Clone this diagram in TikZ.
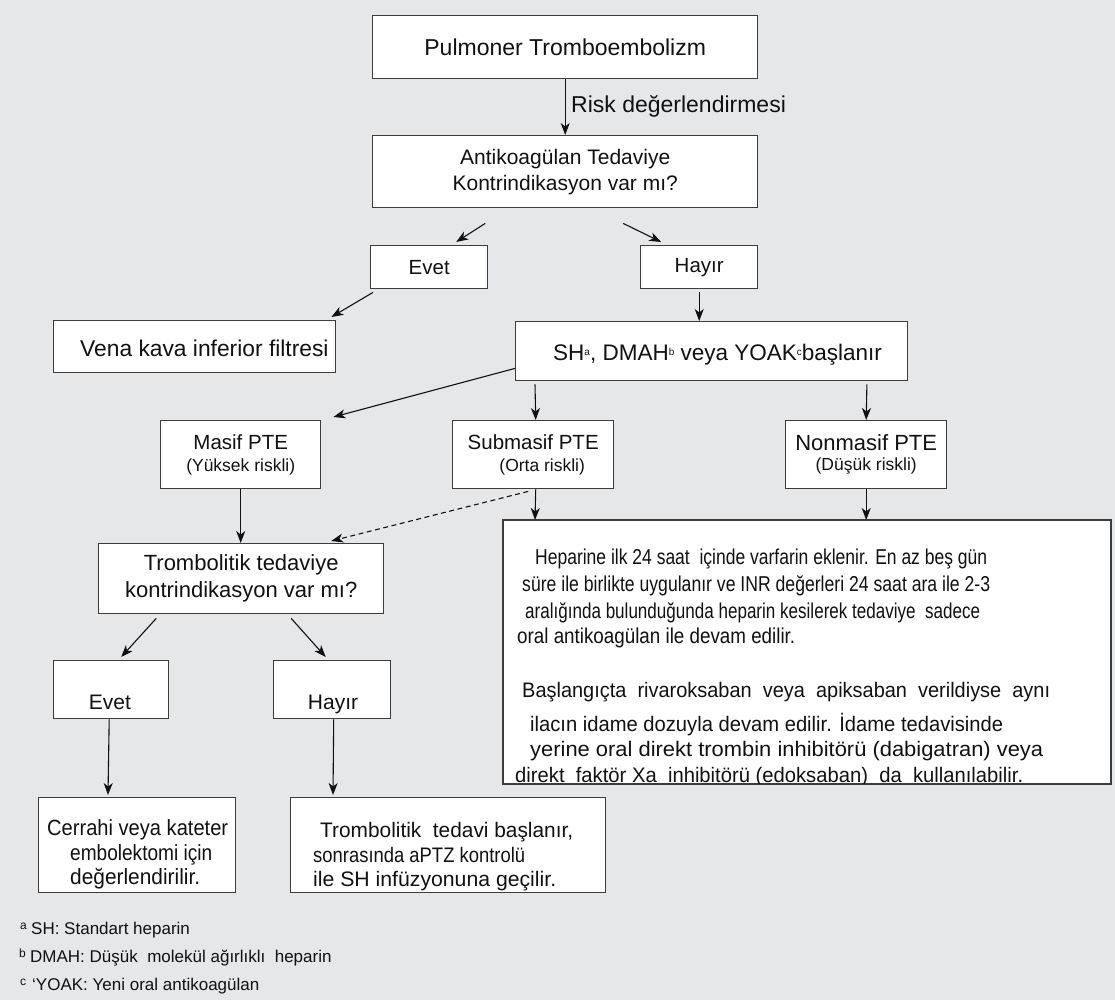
\documentclass[tikz,border=0pt]{standalone}
\usepackage{fontspec}
\setmainfont{Liberation Sans}
\usetikzlibrary{arrows.meta,calc}
\definecolor{pagebg}{HTML}{E6E7E9}
\definecolor{frame}{HTML}{3C3C3C}
\definecolor{ink}{HTML}{111111}
\newcommand\fsz[1]{\fontsize{#1}{#1}\selectfont}
\newcommand\wfit[2]{\resizebox{#1pt}{\height}{#2}}
\newcommand\tinysup[1]{\raisebox{5pt}{\fontsize{10}{10}\selectfont #1}}
\tikzset{
  box/.style={draw=frame, fill=white, line width=1.4pt, anchor=north west,
    inner sep=0pt, align=center, text=ink},
  lbl/.style={inner sep=0pt, text=ink, anchor=base west},
  clbl/.style={inner sep=0pt, text=ink, anchor=base},
  arr/.style={line width=1.1pt, draw=ink, -{Stealth[length=12pt,width=9pt,inset=3.5pt]}},
  darr/.style={arr, dash pattern=on 5pt off 3.5pt},
}
\begin{document}
\begin{tikzpicture}[x=1pt,y=-1pt]
\fill[pagebg] (0,0) rectangle (1115,1000);
\useasboundingbox (0,0) rectangle (1115,1000);

% ---- boxes ----
\node[box, minimum width=385pt, minimum height=63pt] (pte) at (372,15)
  {\fsz{23}Pulmoner Tromboembolizm};
\node[box, minimum width=385pt, minimum height=72pt, font=\fontsize{21}{26}\selectfont] (kontra) at (372,135)
  {Antikoagülan Tedaviye\\Kontrindikasyon var mı?};
\node[box, minimum width=117pt, minimum height=43pt] (evetA) at (370,245) {\fsz{20.5}Evet};
\node[box, minimum width=117pt, minimum height=43pt] (hayirA) at (640,245) {\fsz{20.5}Hayır};
\node[box, minimum width=282pt, minimum height=52pt] (vena) at (53,320) {};
\node[box, minimum width=392pt, minimum height=59pt] (sh) at (515,321) {};
\node[box, minimum width=160pt, minimum height=68pt] (masif) at (160,420)
  {\fsz{20.5}Masif PTE\\[8pt]\fsz{17.5}(Yüksek riskli)};
\node[box, minimum width=161pt, minimum height=68pt] (submasif) at (452,420)
  {\fsz{20.5}Submasif PTE\\[8pt]\fsz{17.5}\hspace*{18pt}(Orta riskli)};
\node[box, minimum width=161pt, minimum height=68pt] (nonmasif) at (785,420)
  {\fsz{22}Nonmasif PTE\\[6pt]\fsz{17.5}(Düşük riskli)};
\node[box, minimum width=607pt, minimum height=263pt] (bigbox) at (503,520) {};
\node[box, minimum width=285pt, minimum height=70pt, font=\fontsize{22}{27}\selectfont] (trombo) at (98,543)
  {Trombolitik tedaviye\\kontrindikasyon var mı?};
\node[box, minimum width=115pt, minimum height=58pt] (evetB) at (53,660) {};
\node[box, minimum width=117pt, minimum height=58pt] (hayirB) at (273,660) {};
\node[box, minimum width=197pt, minimum height=95pt] (cerrahi) at (38,797) {};
\node[box, minimum width=315pt, minimum height=95pt] (trtedavi) at (290,797) {};

% ---- texts placed inside boxes ----
\node[lbl] (riskT) at (571,113) {\fsz{23}Risk değerlendirmesi};
\node[lbl] (venaT) at (80,356) {\fsz{22.8}Vena kava inferior filtresi};
\node[lbl] (shT) at (553,360)
  {\fsz{22.5}SH\tinysup{a}, DMAH\tinysup{b} veya YOAK\tinysup{c}başlanır};
\node[clbl] (evetBT) at (110,709) {\fsz{21}Evet};
\node[clbl] (hayirBT) at (333,709) {\fsz{21}Hayır};

\node[lbl] (cer1) at (47,835) {\fsz{22}\wfit{181}{Cerrahi veya kateter}};
\node[lbl] (cer2) at (70,860) {\fsz{22}\wfit{142}{embolektomi için}};
\node[lbl] (cer3) at (70,884) {\fsz{22}\wfit{130}{değerlendirilir.}};

\node[lbl] (trt1) at (320,837) {\fsz{21}\wfit{253}{Trombolitik\ \ tedavi başlanır,}};
\node[lbl] (trt2) at (313,862) {\fsz{21}\wfit{212}{sonrasında aPTZ kontrolü}};
\node[lbl] (trt3) at (313,886) {\fsz{21}\wfit{243}{ile SH infüzyonuna geçilir.}};

\begin{scope}
  \clip (bigbox.north west) rectangle (bigbox.south east);
  \node[lbl] (b1) at (535,564) {\fsz{21.5}\wfit{452}{Heparine ilk 24 saat\ \ içinde varfarin eklenir. En az beş gün}};
  \node[lbl] (b2) at (522,591) {\fsz{21.5}\wfit{468}{süre ile birlikte uygulanır ve INR değerleri 24 saat ara ile 2-3}};
  \node[lbl] (b3) at (525,618) {\fsz{21.5}\wfit{455}{aralığında bulunduğunda heparin kesilerek tedaviye\ \ sadece}};
  \node[lbl] (b4) at (517,643) {\fsz{21.5}\wfit{278}{oral antikoagülan ile devam edilir.}};
  \node[lbl] (b5) at (522,697) {\fsz{21}\wfit{528}{Başlangıçta\ \ rivaroksaban\ \ veya\ \ apiksaban\ \ verildiyse\ \ aynı}};
  \node[lbl] (b6) at (530,731) {\fsz{21}\wfit{473}{ilacın idame dozuyla devam edilir. İdame tedavisinde}};
  \node[lbl] (b7) at (530,756) {\fsz{21}\wfit{513}{yerine oral direkt trombin inhibitörü (dabigatran) veya}};
  \node[lbl] (b8) at (515,782) {\fsz{21}\wfit{508}{direkt\ \ faktör Xa\ \ inhibitörü (edoksaban)\ \ da\ \ kullanılabilir.}};
\end{scope}
\draw[frame, line width=1.4pt] (bigbox.north west) rectangle (bigbox.south east);

% ---- footnotes ----
\node[lbl] (fa) at (20,929) {\fsz{12}a};
\node[lbl] (fat) at (31,934) {\fsz{17}SH: Standart heparin};
\node[lbl] (fb) at (19,957) {\fsz{12}b};
\node[lbl] (fbt) at (30,962) {\fsz{17}DMAH: Düşük\ \ molekül ağırlıklı\ \ heparin};
\node[lbl] (fc) at (20,985) {\fsz{12}c};
\node[lbl] (fct) at (32,990) {\fsz{17}‘YOAK: Yeni oral antikoagülan};

% ---- connectors ----
\draw[arr] (pte.south) -- (kontra.north);
\draw[arr] ([xshift=-80pt,yshift=-15pt]kontra.south) -- ([xshift=27pt,yshift=3pt]evetA.north);
\draw[arr] ([xshift=58pt,yshift=-15pt]kontra.south) -- ([xshift=-38pt,yshift=3pt]hayirA.north);
\draw[arr] ([xshift=3pt,yshift=-3pt]evetA.south west) -- ([xshift=-5pt,yshift=3pt]vena.north east);
\draw[arr] ([yshift=-3pt]hayirA.south) -- (hayirA.south |- sh.north);
\draw[arr] ([yshift=13pt]sh.south west) -- ([xshift=12pt,yshift=3pt]masif.north east);
\draw[arr] ([xshift=20pt,yshift=-3pt]sh.south west) -- ([xshift=2.5pt]submasif.north);
\draw[arr] ([xshift=-41.5pt,yshift=-3pt]sh.south east) -- (nonmasif.north);
\draw[arr] (masif.south) -- (masif.south |- trombo.north);
\draw[darr] ([xshift=-5pt,yshift=-2pt]submasif.south) -- ([xshift=90pt,yshift=2pt]trombo.north);
\draw[arr] ([xshift=2.5pt]submasif.south) -- ([xshift=32pt]bigbox.north west);
\draw[arr] (nonmasif.south) -- (nonmasif.south |- bigbox.north);
\draw[arr] ([xshift=-85pt,yshift=-4pt]trombo.south) -- ([xshift=10pt,yshift=3pt]evetB.north);
\draw[arr] ([xshift=50pt,yshift=-4pt]trombo.south) -- ([xshift=-6.5pt,yshift=3pt]hayirB.north);
\draw[arr] ([xshift=-2pt]evetB.south) -- ([xshift=70pt,yshift=2pt]cerrahi.north west);
\draw[arr] ([xshift=1.5pt]hayirB.south) -- ([xshift=43pt,yshift=2pt]trtedavi.north west);
\end{tikzpicture}
\end{document}
